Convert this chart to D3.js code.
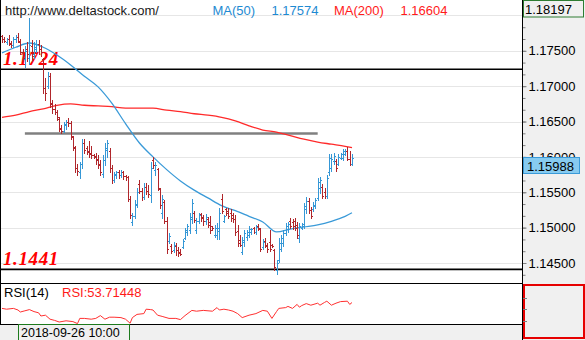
<!DOCTYPE html>
<html>
<head>
<meta charset="utf-8">
<script src="https://cdn.jsdelivr.net/npm/d3@7"></script>
<style>
  body { margin: 0; background: #fff; }
  svg { display: block; }
  text { font-family: "Liberation Sans", Arial, sans-serif; }
</style>
</head>
<body>
<svg id="chart" width="585" height="340"></svg>
<script>
// EURUSD hourly bars: [open, high, low, close]
const bars = [
  [1.1771,1.1773,1.1763,1.1766],[1.1766,1.1770,1.1762,1.1764],[1.1763,1.1768,1.1760,1.1767],[1.1767,1.1772,1.1758,1.1760],
  [1.1761,1.1764,1.1755,1.1758],[1.1758,1.1770,1.1756,1.1767],[1.1766,1.1772,1.1762,1.1769],[1.1769,1.1775,1.1762,1.1764],
  [1.1763,1.1766,1.1745,1.1748],[1.1748,1.1752,1.1735,1.1740],[1.1738,1.1757,1.1727,1.1750],[1.1752,1.1762,1.1735,1.1745],
  [1.1740,1.1796,1.1732,1.1758],[1.1757,1.1765,1.1735,1.1742],[1.1745,1.1762,1.1740,1.1755],[1.1752,1.1765,1.1748,1.1760],
  [1.1760,1.1765,1.1745,1.1752],[1.1752,1.1758,1.1742,1.1748],[1.1738,1.1740,1.1690,1.1697],[1.1698,1.1712,1.1680,1.1690],
  [1.1700,1.1720,1.1698,1.1715],[1.1715,1.1719,1.1670,1.1675],[1.1676,1.1680,1.1662,1.1668],[1.1668,1.1675,1.1660,1.1664],
  [1.1664,1.1667,1.1652,1.1656],[1.1654,1.1656,1.1637,1.1640],[1.1641,1.1645,1.1634,1.1637],[1.1637,1.1650,1.1635,1.1646],
  [1.1645,1.1652,1.1640,1.1650],[1.1650,1.1655,1.1644,1.1648],[1.1648,1.1651,1.1625,1.1630],[1.1628,1.1630,1.1610,1.1614],
  [1.1612,1.1615,1.1578,1.1585],[1.1585,1.1590,1.1575,1.1580],[1.1578,1.1593,1.1570,1.1590],[1.1590,1.1626,1.1585,1.1620],
  [1.1620,1.1625,1.1605,1.1610],[1.1612,1.1615,1.1604,1.1607],[1.1608,1.1622,1.1600,1.1604],[1.1605,1.1616,1.1598,1.1602],
  [1.1603,1.1604,1.1598,1.1600],[1.1601,1.1606,1.1590,1.1595],[1.1597,1.1603,1.1585,1.1588],[1.1590,1.1596,1.1574,1.1578],
  [1.1576,1.1602,1.1571,1.1595],[1.1596,1.1620,1.1588,1.1612],[1.1610,1.1624,1.1600,1.1620],[1.1608,1.1612,1.1579,1.1584],
  [1.1585,1.1588,1.1563,1.1567],[1.1567,1.1579,1.1565,1.1576],[1.1574,1.1580,1.1570,1.1578],[1.1578,1.1581,1.1570,1.1574],
  [1.1574,1.1582,1.1571,1.1579],[1.1579,1.1580,1.1569,1.1573],[1.1573,1.1574,1.1568,1.1571],[1.1571,1.1573,1.1537,1.1541],
  [1.1540,1.1545,1.1513,1.1518],[1.1508,1.1521,1.1504,1.1516],[1.1516,1.1539,1.1513,1.1533],[1.1532,1.1556,1.1529,1.1550],
  [1.1562,1.1567,1.1549,1.1552],[1.1552,1.1556,1.1539,1.1544],[1.1544,1.1563,1.1540,1.1558],[1.1558,1.1563,1.1548,1.1552],
  [1.1552,1.1560,1.1543,1.1548],[1.1546,1.1593,1.1536,1.1585],[1.1596,1.1600,1.1585,1.1589],[1.1582,1.1593,1.1574,1.1588],
  [1.1583,1.1585,1.1553,1.1556],[1.1554,1.1556,1.1528,1.1532],[1.1520,1.1546,1.1513,1.1540],[1.1536,1.1539,1.1506,1.1510],
  [1.1510,1.1515,1.1464,1.1470],[1.1481,1.1492,1.1478,1.1488],[1.1474,1.1477,1.1464,1.1467],[1.1468,1.1480,1.1466,1.1476],
  [1.1474,1.1478,1.1462,1.1468],[1.1468,1.1472,1.1460,1.1464],[1.1466,1.1470,1.1461,1.1463],[1.1473,1.1484,1.1471,1.1481],
  [1.1486,1.1499,1.1484,1.1496],[1.1494,1.1505,1.1490,1.1502],[1.1496,1.1521,1.1492,1.1515],[1.1512,1.1541,1.1506,1.1535],
  [1.1520,1.1524,1.1508,1.1511],[1.1496,1.1513,1.1492,1.1510],[1.1510,1.1521,1.1506,1.1518],[1.1519,1.1521,1.1510,1.1514],
  [1.1515,1.1518,1.1504,1.1510],[1.1509,1.1519,1.1505,1.1515],[1.1512,1.1515,1.1501,1.1504],[1.1508,1.1517,1.1493,1.1496],
  [1.1502,1.1503,1.1497,1.1499],[1.1490,1.1504,1.1487,1.1500],[1.1489,1.1506,1.1484,1.1500],[1.1495,1.1528,1.1484,1.1520],
  [1.1540,1.1548,1.1521,1.1524],[1.1510,1.1518,1.1508,1.1516],[1.1526,1.1528,1.1518,1.1521],[1.1524,1.1528,1.1513,1.1517],
  [1.1520,1.1527,1.1510,1.1514],[1.1518,1.1521,1.1508,1.1512],[1.1512,1.1518,1.1489,1.1494],[1.1495,1.1504,1.1474,1.1478],
  [1.1482,1.1489,1.1474,1.1476],[1.1466,1.1487,1.1463,1.1482],[1.1480,1.1496,1.1474,1.1492],[1.1487,1.1497,1.1483,1.1494],
  [1.1490,1.1502,1.1487,1.1498],[1.1494,1.1500,1.1491,1.1498],[1.1499,1.1501,1.1492,1.1494],[1.1494,1.1504,1.1491,1.1501],
  [1.1503,1.1505,1.1497,1.1499],[1.1498,1.1500,1.1467,1.1470],[1.1472,1.1484,1.1470,1.1480],[1.1481,1.1486,1.1472,1.1475],
  [1.1474,1.1478,1.1466,1.1470],[1.1480,1.1497,1.1467,1.1470],[1.1476,1.1477,1.1472,1.1474],[1.1468,1.1470,1.1440,1.1444],
  [1.1440,1.1454,1.1434,1.1450],[1.1454,1.1485,1.1451,1.1478],[1.1470,1.1490,1.1467,1.1485],[1.1478,1.1497,1.1474,1.1492],
  [1.1493,1.1506,1.1490,1.1502],[1.1498,1.1508,1.1494,1.1505],[1.1510,1.1514,1.1500,1.1503],[1.1508,1.1512,1.1498,1.1502],
  [1.1510,1.1514,1.1496,1.1500],[1.1504,1.1508,1.1486,1.1490],[1.1486,1.1506,1.1480,1.1502],[1.1500,1.1507,1.1498,1.1505],
  [1.1502,1.1535,1.1499,1.1530],[1.1526,1.1543,1.1521,1.1538],[1.1538,1.1542,1.1521,1.1525],[1.1525,1.1529,1.1514,1.1517],
  [1.1526,1.1536,1.1524,1.1532],[1.1530,1.1542,1.1528,1.1539],[1.1542,1.1570,1.1539,1.1565],[1.1556,1.1572,1.1549,1.1568],
  [1.1558,1.1561,1.1542,1.1545],[1.1550,1.1556,1.1542,1.1545],[1.1545,1.1575,1.1542,1.1570],[1.1578,1.1604,1.1575,1.1598],
  [1.1584,1.1604,1.1580,1.1597],[1.1594,1.1606,1.1590,1.1601],[1.1594,1.1597,1.1580,1.1584],[1.1590,1.1604,1.1588,1.1600],
  [1.1599,1.1606,1.1597,1.1604],[1.1598,1.1611,1.1595,1.1608],[1.1604,1.1611,1.1602,1.1609],[1.1609,1.1614,1.1595,1.1597],
  [1.1597,1.1608,1.1588,1.1590],[1.1590,1.1604,1.1588,1.15988]
];

// Moving averages sampled at bar indices
const maIdx  = [0, 6, 12, 18, 24, 30, 36, 42, 48, 54, 60, 66, 72, 78, 84, 90, 96, 102, 108, 114, 120, 126, 132, 138, 144, 150, 153];
const ma50   = [1.1747,1.1755,1.1761,1.1755,1.1744,1.1730,1.1714,1.1699,1.1676,1.1647,1.1620,1.1600,1.1582,1.1566,1.1553,1.1542,1.1531,1.1524,1.1516,1.1508,1.1494,1.1498,1.1501,1.1504,1.1509,1.1516,1.1521];
const ma200  = [1.1656,1.1659,1.1664,1.1668,1.1673,1.1675,1.1673,1.1672,1.1671,1.1669,1.1669,1.1669,1.1666,1.1664,1.1661,1.1659,1.1656,1.1651,1.1644,1.1638,1.1635,1.1630,1.1625,1.1621,1.1618,1.1615,1.1613];

// RSI(14) readings at bar indices
const rsiIdx  = [0,2,5,7,8,10,12,14,16,17,19,21,23,25,28,31,33,34,36,39,41,43,45,47,49,52,54,56,57,59,62,63,65,66,68,70,73,76,78,80,83,85,88,92,94,95,97,99,101,103,105,108,111,114,116,118,120,121,124,125,127,129,130,131,133,135,138,139,141,142,144,146,148,151,152,153];
const rsiVals = [39,37,39,35,30,33,36,31,28,20,22,12,9,5,8,6,1,14,14,12,14,21,12,17,17,16,12,2,16,24,26,37,36,35,22,19,14,14,11,21,34,32,34,32,41,35,37,35,32,26,16,22,26,34,32,14,31,39,41,44,39,49,42,46,51,47,52,47,54,57,47,52,56,57,49,53.71];

const priceTicks = [1.145, 1.150, 1.155, 1.160, 1.165, 1.170, 1.175, 1.180];
const levels = [1.1724, 1.1441];
const levelLabels = ["1.1724", "1.1441"];
const trendLevel = 1.1633;
const trendSpan = [10, 138];
const lastPrice = 1.15988;
const topPrice = 1.18197;
const siteLabel = "http://www.deltastock.com/";
const maLabels = [["MA(50)", "1.17574"], ["MA(200)", "1.16604"]];
const rsiTitle = "RSI(14)";
const rsiLabel = "RSI:53.71448";
const timeLabel = "2018-09-26 10:00";

const UP = "#3597d6", DOWN = "#b0262b";

const svg = d3.select("#chart");
const plotRight = 522;
const x = d3.scaleLinear().domain([0, bars.length - 1]).range([2, 352]);
const y = d3.scaleLinear().domain([1.145, 1.175]).range([263, 50.8]);
const yr = d3.scaleLinear().domain([0, 100]).range([324, 284]);

svg.append("rect").attr("width", 585).attr("height", 340).attr("fill", "#fff");

// grid
svg.append("g").selectAll("line").data(priceTicks).join("line")
  .attr("x1", 1).attr("x2", plotRight)
  .attr("y1", d => Math.round(y(d)) + 0.5).attr("y2", d => Math.round(y(d)) + 0.5)
  .attr("stroke", "#e6e6e6").attr("stroke-width", 1);

// support / resistance levels
svg.append("g").selectAll("line").data(levels).join("line")
  .attr("x1", 0).attr("x2", plotRight)
  .attr("y1", d => y(d)).attr("y2", d => y(d))
  .attr("stroke", "#000").attr("stroke-width", 1.6);

svg.append("line")
  .attr("x1", x(trendSpan[0])).attr("x2", x(trendSpan[1]))
  .attr("y1", y(trendLevel)).attr("y2", y(trendLevel))
  .attr("stroke", "#808080").attr("stroke-width", 2.6);

svg.append("g").selectAll("text").data(levels).join("text")
  .attr("x", 3).attr("y", d => y(d) - 4)
  .attr("fill", "#ff0000")
  .style("font-family", "'Liberation Serif', 'Times New Roman', serif")
  .style("font-weight", "bold").style("font-style", "italic")
  .style("font-size", "19px").style("letter-spacing", "0.6px")
  .text((d, i) => levelLabels[i]);

// moving averages
const maLine = vals => d3.line().x((d, i) => x(maIdx[i])).y(d => y(d)).curve(d3.curveMonotoneX)(vals);
svg.append("path").attr("d", maLine(ma200)).attr("fill", "none").attr("stroke", "#ff2a2a").attr("stroke-width", 1.3);
svg.append("path").attr("d", maLine(ma50)).attr("fill", "none").attr("stroke", "#3a9ad8").attr("stroke-width", 1.3);

// OHLC bars
const gb = svg.append("g").attr("shape-rendering", "crispEdges");
bars.forEach((b, i) => {
  const [o, h, l, c] = b;
  const px = Math.round(x(i));
  const col = c >= o ? UP : DOWN;
  const yh = Math.round(y(h)), yl = Math.round(y(l));
  gb.append("rect").attr("x", px).attr("y", yh).attr("width", 1).attr("height", Math.max(1, yl - yh + 1)).attr("fill", col);
  gb.append("rect").attr("x", px - 1).attr("y", Math.round(y(o))).attr("width", 1).attr("height", 1).attr("fill", col);
  gb.append("rect").attr("x", px + 1).attr("y", Math.round(y(c))).attr("width", 1).attr("height", 1).attr("fill", col);
});

// header
svg.append("text").attr("x", 5).attr("y", 15).attr("fill", "#1a1a1a").style("font-size", "13px").text(siteLabel);
const hdr = [[212.5, 271.5, "#1e8ad2"], [334, 400.5, "#ff1a1a"]];
maLabels.forEach((m, i) => {
  svg.append("text").attr("x", hdr[i][0]).attr("y", 15).attr("fill", hdr[i][2]).style("font-size", "13px").text(m[0]);
  svg.append("text").attr("x", hdr[i][1]).attr("y", 15).attr("fill", hdr[i][2]).style("font-size", "13px").text(m[1]);
});

// panel borders
svg.append("line").attr("x1", 0.5).attr("x2", 0.5).attr("y1", 0).attr("y2", 324).attr("stroke", "#000");
svg.append("line").attr("x1", 0).attr("x2", plotRight).attr("y1", 283.5).attr("y2", 283.5).attr("stroke", "#000");

// RSI panel
svg.append("path")
  .attr("d", d3.line().x((d, i) => x(rsiIdx[i])).y(d => yr(d))(rsiVals))
  .attr("fill", "none").attr("stroke", "#ff3030").attr("stroke-width", 1);
svg.append("text").attr("x", 4).attr("y", 297).attr("fill", "#000").style("font-size", "13px").text(rsiTitle);
svg.append("text").attr("x", 62).attr("y", 297).attr("fill", "#ff1a1a").style("font-size", "13px").text(rsiLabel);

// time axis strip
svg.append("rect").attr("x", 0).attr("y", 324).attr("width", plotRight).attr("height", 16).attr("fill", "#f0f0f0");
svg.append("line").attr("x1", 0).attr("x2", plotRight).attr("y1", 324.5).attr("y2", 324.5).attr("stroke", "#000");
svg.append("rect").attr("x", 18.5).attr("y", 324.5).attr("width", 111).attr("height", 16)
  .attr("fill", "#f0f0f0").attr("stroke", "#1d7a1d");
svg.append("text").attr("x", 21).attr("y", 337).attr("fill", "#000").style("font-size", "12.5px").text(timeLabel);

// price axis panel
svg.append("rect").attr("x", plotRight + 1).attr("y", 0).attr("width", 585 - plotRight - 1).attr("height", 340).attr("fill", "#f0f0f0");
const minorTicks = d3.range(-3, 23).map(k => 1.145 + k * 0.005 / 3);
const axMinor = d3.axisRight(y).tickValues(minorTicks).tickSize(3).tickFormat("");
const gMinor = svg.append("g").attr("transform", `translate(${plotRight + 0.5},0)`).call(axMinor);
gMinor.select(".domain").remove();
gMinor.selectAll("line").attr("stroke", "#808080");
// the topmost level sits under the range box, so only its tick is drawn
const axMajor = d3.axisRight(y).tickValues(priceTicks).tickSize(4).tickPadding(2)
  .tickFormat(d => d > 1.1775 ? "" : d3.format(".5f")(d));
const gMajor = svg.append("g").attr("transform", `translate(${plotRight + 0.5},0)`).call(axMajor);
gMajor.select(".domain").remove();
gMajor.selectAll("line").attr("stroke", "#808080");
gMajor.selectAll("text").attr("fill", "#000").style("font-size", "13px")
  .style("font-family", "'Liberation Sans', Arial, sans-serif");
svg.append("line").attr("x1", plotRight + 0.5).attr("x2", plotRight + 0.5).attr("y1", 0).attr("y2", 340).attr("stroke", "#000");

// top value box
svg.append("rect").attr("x", plotRight + 1.5).attr("y", 0.5).attr("width", 60).attr("height", 16.5)
  .attr("fill", "#f0f0f0").attr("stroke", "#2e7d32");
svg.append("text").attr("x", 525).attr("y", 13.5).attr("fill", "#000").style("font-size", "13px")
  .text(d3.format(".5f")(topPrice));

// last price box
const yl = Math.round(y(lastPrice)) - 0.5;
svg.append("rect").attr("x", plotRight + 1.5).attr("y", yl).attr("width", 56).attr("height", 16)
  .attr("fill", "#87cbf0").attr("stroke", "#3a9ad8");
svg.append("text").attr("x", 527).attr("y", yl + 13).attr("fill", "#000").style("font-size", "13px")
  .text(d3.format(".5f")(lastPrice));

// RSI scale box
svg.append("rect").attr("x", plotRight + 2).attr("y", 285).attr("width", 60).attr("height", 53)
  .attr("fill", "#f0f0f0").attr("stroke", "#e60000").attr("stroke-width", 2);
svg.append("g").selectAll("line").data([65, 38, 8]).join("line")
  .attr("x1", plotRight + 1).attr("x2", plotRight + 5)
  .attr("y1", d => Math.round(yr(d)) + 0.5).attr("y2", d => Math.round(yr(d)) + 0.5)
  .attr("stroke", "#808080");
</script>
</body>
</html>
